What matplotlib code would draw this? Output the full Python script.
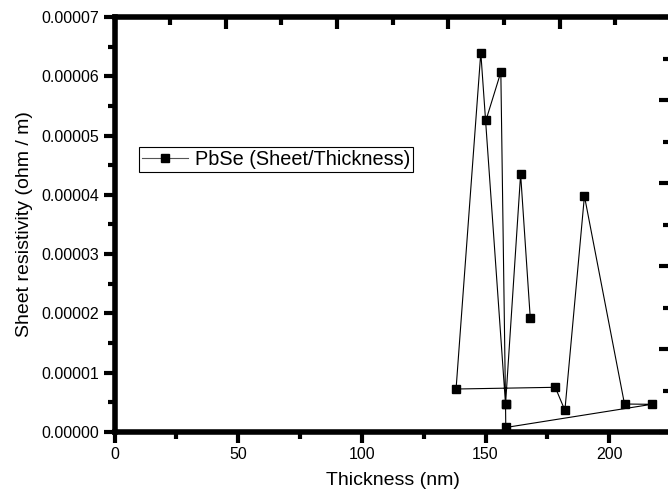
import matplotlib
matplotlib.use('Agg')
import matplotlib.pyplot as plt
from matplotlib.ticker import MultipleLocator, FormatStrFormatter

plt.rcParams['font.family'] = ['Liberation Sans', 'DejaVu Sans']

# data, in the order the points are joined
thickness = [150.2, 156.2, 158.1, 148.1, 138.1, 178.2, 182.1,
             190.0, 206.2, 217.2, 158.2, 158.1, 164.2, 168.1]
resistivity = [5.26e-5, 6.07e-5, 0.467e-5, 6.40e-5, 0.725e-5, 0.754e-5, 0.366e-5,
               3.98e-5, 0.472e-5, 0.467e-5, 0.076e-5, 0.467e-5, 4.35e-5, 1.92e-5]
series_name = 'PbSe (Sheet/Thickness)'

fig = plt.figure(figsize=(6.68, 4.91), dpi=100)
# axes run a little past the right edge of the picture, like the original
ax = fig.add_axes([114.5 / 668, 1 - 432 / 491, (671 - 114.5) / 668, (432 - 17) / 491])

ax.plot(thickness, resistivity, color='black', lw=0.8, marker='s',
        markersize=6.3, markerfacecolor='black', markeredgecolor='black',
        label=series_name, zorder=3)

ax.set_xlim(0, 225)
ax.set_ylim(0, 0.00007)
ax.xaxis.set_major_locator(MultipleLocator(50))
ax.xaxis.set_minor_locator(MultipleLocator(25))
ax.yaxis.set_major_locator(MultipleLocator(0.00001))
ax.yaxis.set_minor_locator(MultipleLocator(0.000005))
ax.yaxis.set_major_formatter(FormatStrFormatter('%.5f'))

for sp in ax.spines.values():
    sp.set_linewidth(4)
ax.tick_params(which='both', direction='out', top=False, right=False,
               width=3, labelsize=11.5, pad=3)
ax.tick_params(which='major', length=8)
ax.tick_params(which='minor', length=5)

ax.set_xlabel('Thickness (nm)', fontsize=14, labelpad=7)
ax.set_ylabel('Sheet resistivity (ohm / m)', fontsize=14, labelpad=6)

# extra tick-only axes on top and right (own scales, no labels)
axt = ax.twiny()
axt.set_xlim(0, 5)
axt.xaxis.set_major_locator(MultipleLocator(1))
axt.xaxis.set_minor_locator(MultipleLocator(0.5))
axt.tick_params(which='both', direction='in', width=3, labeltop=False)
axt.tick_params(which='major', length=8.5)
axt.tick_params(which='minor', length=5.5)
for sp in axt.spines.values():
    sp.set_visible(False)

axr = ax.twinx()
axr.set_ylim(0, 5)
axr.yaxis.set_major_locator(MultipleLocator(1))
axr.yaxis.set_minor_locator(MultipleLocator(0.5))
axr.tick_params(which='both', direction='in', width=3, labelright=False)
axr.tick_params(which='major', length=8.5)
axr.tick_params(which='minor', length=5.5)
for sp in axr.spines.values():
    sp.set_visible(False)

leg = ax.legend(loc='upper left', bbox_to_anchor=(139.3 / 668, 1 - 146.7 / 491),
                bbox_transform=fig.transFigure, borderaxespad=0, fontsize=14.3,
                frameon=True, fancybox=False, framealpha=1, edgecolor='black',
                borderpad=0.15, handlelength=2.3, handletextpad=0.35)
leg.get_frame().set_linewidth(0.8)
leg.get_lines()[0].set_color('#555555')
leg.get_lines()[0].set_markerfacecolor('black')
leg.get_lines()[0].set_markeredgecolor('black')

fig.savefig('out.png', dpi=100)
